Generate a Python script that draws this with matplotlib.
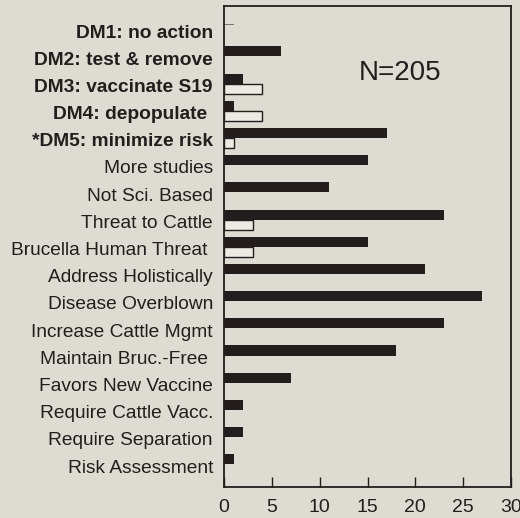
import matplotlib
matplotlib.use("Agg")
import matplotlib.pyplot as plt

# categories, top to bottom
labels = [
    "DM1: no action", "DM2: test & remove", "DM3: vaccinate S19",
    "DM4: depopulate ", "*DM5: minimize risk", "More studies",
    "Not Sci. Based", "Threat to Cattle", "Brucella Human Threat ",
    "Address Holistically", "Disease Overblown", "Increase Cattle Mgmt",
    "Maintain Bruc.-Free ", "Favors New Vaccine", "Require Cattle Vacc.",
    "Require Separation", "Risk Assessment",
]
bold_rows = 5  # the DM labels are bold

# dark (filled) series and white (open) series
dark = [1, 6, 2, 1, 17, 15, 11, 23, 15, 21, 27, 23, 18, 7, 2, 2, 1]
white = [0, 0, 4, 4, 1, 0, 0, 3, 3, 0, 0, 0, 0, 0, 0, 0, 0]
xticks = [0, 5, 10, 15, 20, 25, 30]
note = "N=205"

bg = "#dcdcd2"
ink = "#231d1d"

plt.rcParams["font.family"] = ["Liberation Sans", "DejaVu Sans"]

fig = plt.figure(figsize=(5.2, 5.18), dpi=100, facecolor=bg)
ax = fig.add_axes([0.4308, 0.0598, 0.5519, 0.9286])
ax.set_facecolor(bg)

pos = list(range(len(labels)))

# DM1 shows only a hairline in the original
heights = [0.04 if i == 0 else 0.37 for i in pos]
colors = ["#7a7670" if i == 0 else ink for i in pos]
ax.barh([p - 0.25 for p in pos], dark, height=heights, color=colors,
        edgecolor="none")

wp = [p + 0.12 for p, v in zip(pos, white) if v > 0]
wv = [v for v in white if v > 0]
ax.barh(wp, wv, height=0.37, color="#ecebe3", edgecolor=ink, linewidth=1.0)

ax.set_xlim(0, 30)
ax.set_ylim(16.77, -0.92)
ax.set_xticks(xticks)
ax.set_xticklabels([str(t) for t in xticks], fontsize=14, color=ink)
ax.tick_params(axis="x", direction="in", length=7, width=1.0, color=ink, pad=8.5)

ax.set_yticks(pos)
ax.set_yticklabels(labels, fontsize=13.8, color=ink)
for i, t in enumerate(ax.get_yticklabels()):
    if i < bold_rows:
        t.set_fontweight("bold")
ax.tick_params(axis="y", length=0, pad=8)

for s in ax.spines.values():
    s.set_color(ink)
    s.set_linewidth(1.3)

ax.text(0.613, 0.861, note, transform=ax.transAxes, fontsize=20,
        color=ink, ha="center", va="center")

fig.savefig("out.png", dpi=100, facecolor=bg)
